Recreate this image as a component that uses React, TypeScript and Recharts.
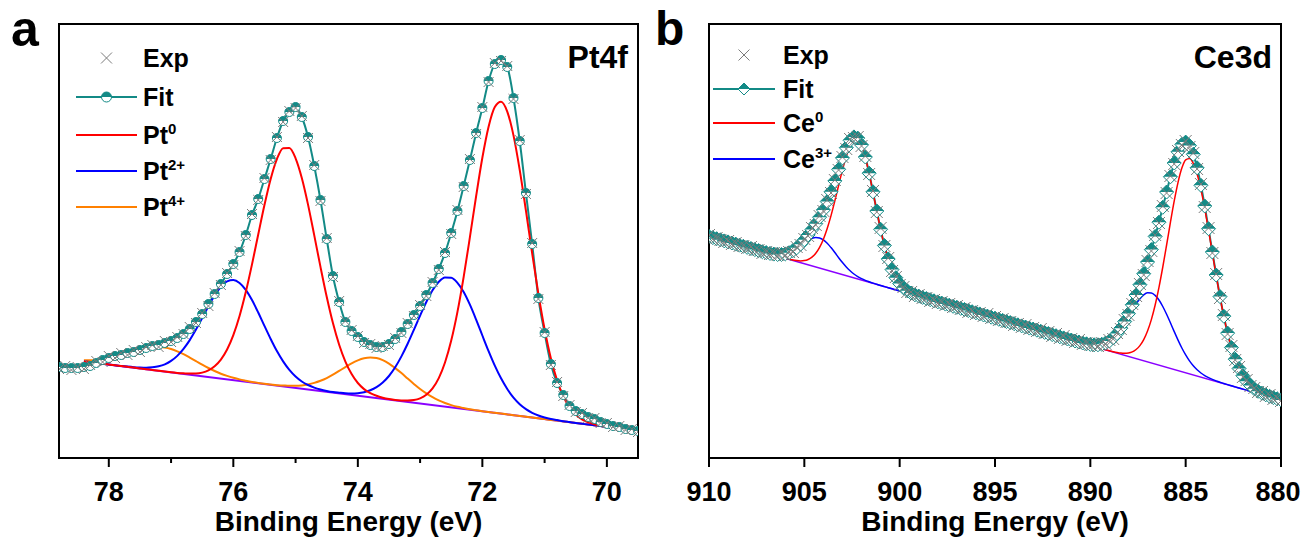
import { ComposedChart, Line, XAxis, YAxis, ReferenceArea } from "recharts";

const FONT = "Arial, 'Liberation Sans', Helvetica, sans-serif";
const TEAL = "#138a86";
const GREY = "#7c7c7c";
const RED = "#ff0000";
const BLUE = "#0000ff";
const ORANGE = "#ff8000";
const PURPLE = "#8a00ff";

// ---- panel a: Pt4f ----
const ptEnergy = [
  78.8, 78.7, 78.6, 78.5, 78.4, 78.3, 78.2, 78.1, 78.0, 77.9, 77.8, 77.7, 77.6, 77.5, 77.4, 77.3,
  77.2, 77.1, 77.0, 76.9, 76.8, 76.7, 76.6, 76.5, 76.4, 76.3, 76.2, 76.1, 76.0, 75.9, 75.8, 75.7,
  75.6, 75.5, 75.4, 75.3, 75.2, 75.1, 75.0, 74.9, 74.8, 74.7, 74.6, 74.5, 74.4, 74.3, 74.2, 74.1,
  74.0, 73.9, 73.8, 73.7, 73.6, 73.5, 73.4, 73.3, 73.2, 73.1, 73.0, 72.9, 72.8, 72.7, 72.6, 72.5,
  72.4, 72.3, 72.2, 72.1, 72.0, 71.9, 71.8, 71.7, 71.6, 71.5, 71.4, 71.3, 71.2, 71.1, 71.0, 70.9,
  70.8, 70.7, 70.6, 70.5, 70.4, 70.3, 70.2, 70.1, 70.0, 69.9, 69.8, 69.7, 69.6, 69.5,
];
const ptFit = [
  91, 90, 90, 90, 91, 92, 95, 98, 100, 102,
  103, 105, 106, 108, 110, 112, 113, 115, 117, 120,
  124, 129, 136, 144, 154, 164, 174, 184, 194, 206,
  223, 243, 259, 279, 299, 320, 337, 346, 351, 341,
  321, 292, 258, 219, 182, 156, 136, 127, 121, 116,
  113, 111, 111, 114, 119, 126, 134, 143, 152, 163,
  175, 189, 205, 225, 247, 272, 298, 325, 350, 377,
  394, 398, 391, 360, 317, 265, 214, 160, 125, 94,
  75, 63, 52, 47, 44, 41, 39, 36, 34, 32,
  31, 29, 28, 27,
];
const ptExp = [
  89, 92, 88, 91, 89, 93, 97, 96, 102, 100,
  105, 103, 108, 106, 111, 113, 111, 117, 116, 121,
  124, 131, 135, 145, 152, 165, 173, 185, 193, 207,
  222, 244, 258, 280, 298, 321, 336, 347, 350, 342,
  320, 293, 257, 220, 181, 157, 137, 128, 122, 115,
  114, 110, 112, 113, 120, 125, 135, 142, 153, 162,
  176, 188, 206, 224, 248, 271, 299, 324, 351, 376,
  395, 397, 392, 359, 318, 264, 215, 159, 126, 93,
  76, 62, 53, 46, 45, 40, 40, 35, 35, 31,
  32, 28, 29, 26,
];
// components start at 78.4 eV
const pt0 = [
  96.6, 95.9, 95.1, 94.3, 93.5, 92.7, 92.0, 91.2, 90.4, 89.6,
  88.8, 88.1, 87.3, 86.5, 85.7, 85.1, 84.7, 84.4, 84.5, 85.4,
  87.6, 91.7, 98.4, 108.5, 122.9, 142.0, 165.9, 193.6, 223.5, 253.0,
  279.1, 298.9, 309.8, 310.0, 299.7, 280.0, 253.4, 222.6, 191.1, 161.2,
  134.9, 113.3, 96.4, 83.9, 75.0, 68.9, 64.9, 62.2, 60.3, 58.9,
  57.9, 57.5, 57.4, 57.9, 59.6, 63.2, 69.6, 79.9, 95.5, 117.4,
  146.1, 181.2, 220.8, 261.8, 300.2, 331.3, 351.0, 356.3, 346.4, 322.6,
  288.1, 247.3, 204.6, 164.2, 128.8, 99.8, 77.8, 61.7, 50.7, 43.4,
  38.7, 35.8, 33.8, 32.4, 31.3, 30.3, 29.6, 28.8, 28.0, 27.2,
];
const pt2 = [
  96.6, 95.9, 95.1, 94.3, 93.5, 92.7, 92.1, 91.4, 90.8, 90.4,
  90.2, 90.7, 91.7, 93.7, 97.1, 102.1, 109.1, 117.9, 128.4, 139.9,
  151.7, 162.6, 171.2, 176.6, 177.9, 175.0, 168.1, 157.9, 145.5, 132.1,
  119.0, 106.9, 96.6, 88.1, 81.5, 76.5, 73.0, 70.4, 68.5, 67.1,
  66.0, 65.3, 64.7, 64.5, 64.8, 65.8, 67.7, 70.8, 75.5, 82.0,
  90.7, 101.6, 114.2, 128.1, 142.4, 156.0, 167.7, 176.2, 180.5, 180.2,
  175.2, 166.0, 153.3, 138.4, 122.5, 106.9, 92.4, 79.7, 69.0, 60.4,
  53.8, 48.9, 45.2, 42.5, 40.5, 39.0, 37.9, 36.8, 35.9, 35.0,
  34.2, 33.5, 32.7, 31.9, 31.1, 30.3, 29.6, 28.8, 28.0, 27.2,
];
const pt4 = [
  97.8, 97.8, 98.0, 98.5, 99.4, 100.7, 102.5, 104.4, 106.4, 108.2,
  109.8, 110.9, 111.1, 110.5, 109.0, 106.7, 103.8, 100.4, 96.9, 93.3,
  90.0, 87.0, 84.3, 82.1, 80.2, 78.6, 77.3, 76.1, 75.1, 74.2,
  73.5, 72.8, 72.5, 72.2, 72.2, 72.6, 73.6, 75.1, 77.2, 79.9,
  83.3, 87.1, 90.9, 94.6, 97.6, 99.7, 100.5, 99.9, 97.8, 94.4,
  89.9, 84.9, 79.4, 74.1, 69.0, 64.6, 60.8, 57.6, 55.0, 52.9,
  51.2, 50.0, 48.8, 47.8, 46.8, 45.9, 45.2, 44.4, 43.6, 42.8,
  42.0, 41.3, 40.5, 39.7, 38.9, 38.1, 37.4, 36.6, 35.8, 35.0,
  34.2, 33.5, 32.7, 31.9, 31.1, 30.3, 29.6, 28.8, 28.0, 27.2,
];
const ptBgEnergy = [78.4, 69.5];
const ptBg = [96.6, 27.2];
const ptTicks = [78, 77, 76, 75, 74, 73, 72, 71, 70];

// ---- panel b: Ce3d ----
const ceEnergy = [
  910, 909.8, 909.6, 909.4, 909.2, 909, 908.8, 908.6, 908.4, 908.2,
  908, 907.8, 907.6, 907.4, 907.2, 907, 906.8, 906.6, 906.4, 906.2,
  906, 905.8, 905.6, 905.4, 905.2, 905, 904.8, 904.6, 904.4, 904.2,
  904, 903.8, 903.6, 903.4, 903.2, 903, 902.8, 902.6, 902.4, 902.2,
  902, 901.8, 901.6, 901.4, 901.2, 901, 900.8, 900.6, 900.4, 900.2,
  900, 899.8, 899.6, 899.4, 899.2, 899, 898.8, 898.6, 898.4, 898.2,
  898, 897.8, 897.6, 897.4, 897.2, 897, 896.8, 896.6, 896.4, 896.2,
  896, 895.8, 895.6, 895.4, 895.2, 895, 894.8, 894.6, 894.4, 894.2,
  894, 893.8, 893.6, 893.4, 893.2, 893, 892.8, 892.6, 892.4, 892.2,
  892, 891.8, 891.6, 891.4, 891.2, 891, 890.8, 890.6, 890.4, 890.2,
  890, 889.8, 889.6, 889.4, 889.2, 889, 888.8, 888.6, 888.4, 888.2,
  888, 887.8, 887.6, 887.4, 887.2, 887, 886.8, 886.6, 886.4, 886.2,
  886, 885.8, 885.6, 885.4, 885.2, 885, 884.8, 884.6, 884.4, 884.2,
  884, 883.8, 883.6, 883.4, 883.2, 883, 882.8, 882.6, 882.4, 882.2,
  882, 881.8, 881.6, 881.4, 881.2, 881, 880.8, 880.6, 880.4, 880.2,
  880,
];
const ceFit = [
  221.5, 220.4, 219.3, 218.2, 217.1, 216.1, 215.0, 213.9, 212.8, 211.7,
  210.6, 209.5, 208.4, 207.4, 206.3, 205.4, 204.6, 203.9, 203.5, 203.5,
  204.1, 205.3, 207.4, 210.2, 213.8, 218.2, 223.1, 228.5, 234.3, 240.8,
  248.1, 256.5, 266.2, 277.1, 288.7, 300.1, 310.3, 317.7, 321.1, 319.9,
  313.1, 301.0, 284.8, 266.2, 247.0, 228.7, 212.5, 199.1, 188.4, 180.3,
  174.4, 170.2, 167.2, 165.0, 163.2, 161.9, 160.6, 159.4, 158.3, 157.2,
  156.1, 155.0, 153.9, 152.8, 151.7, 150.7, 149.6, 148.5, 147.4, 146.3,
  145.2, 144.1, 143.0, 141.9, 140.8, 139.8, 138.7, 137.6, 136.5, 135.4,
  134.3, 133.2, 132.1, 131.0, 129.9, 128.9, 127.8, 126.7, 125.6, 124.5,
  123.4, 122.3, 121.2, 120.1, 119.0, 118.0, 117.0, 116.0, 115.0, 114.2,
  113.6, 113.2, 113.2, 113.7, 115.0, 117.0, 120.1, 124.4, 129.8, 136.5,
  144.4, 153.2, 162.9, 173.3, 184.3, 196.0, 208.4, 221.6, 235.8, 250.7,
  266.0, 281.2, 295.0, 306.2, 313.6, 315.9, 312.4, 303.7, 290.2, 272.7,
  252.0, 229.3, 206.0, 183.0, 161.4, 141.8, 124.9, 110.5, 98.8, 89.5,
  82.3, 76.7, 72.5, 69.2, 66.7, 64.8, 63.2, 61.7, 60.4, 59.2,
  58.1,
];
const ceExp = [
  223, 219, 220, 218, 216, 217, 214, 215, 212, 212,
  210, 211, 208, 208, 205, 206, 204, 205, 203, 205,
  203, 206, 206, 211, 213, 219, 222, 230, 233, 242,
  247, 258, 265, 278, 288, 301, 309, 319, 320, 321,
  312, 302, 284, 267, 246, 230, 212, 200, 187, 181,
  173, 171, 166, 166, 162, 163, 160, 160, 157, 158,
  155, 156, 153, 154, 151, 152, 149, 150, 146, 147,
  144, 145, 142, 144, 140, 141, 138, 139, 136, 136,
  133, 134, 131, 133, 129, 130, 127, 129, 125, 126,
  122, 124, 120, 122, 118, 119, 116, 118, 114, 115,
  113, 114, 112, 115, 114, 118, 119, 125, 129, 138,
  143, 154, 162, 174, 183, 197, 207, 223, 235, 252,
  265, 282, 294, 307, 313, 317, 311, 305, 289, 274,
  251, 230, 205, 184, 160, 143, 124, 112, 98, 91,
  81, 78, 72, 70, 66, 66, 62, 63, 59, 60,
  57,
];
// components start at 906.6 eV
const ce0 = [
  203.0, 201.9, 200.9,
  199.8, 198.9, 198.0, 197.4, 197.1, 197.4, 198.5, 200.8, 204.7, 210.6,
  218.8, 229.5, 242.4, 257.1, 272.8, 288.1, 301.6, 311.7, 317.2, 317.5,
  311.7, 300.2, 284.3, 265.9, 246.8, 228.7, 212.5, 199.1, 188.4, 180.3,
  174.4, 170.2, 167.2, 165.0, 163.2, 161.9, 160.6, 159.4, 158.3, 157.2,
  156.1, 155.0, 153.9, 152.8, 151.7, 150.7, 149.6, 148.5, 147.4, 146.3,
  145.2, 144.1, 143.0, 141.9, 140.8, 139.8, 138.7, 137.6, 136.5, 135.4,
  134.3, 133.2, 132.1, 131.0, 129.9, 128.9, 127.8, 126.7, 125.6, 124.5,
  123.4, 122.3, 121.2, 120.1, 119.0, 118.0, 116.9, 115.8, 114.7, 113.6,
  112.5, 111.4, 110.3, 109.3, 108.2, 107.2, 106.3, 105.5, 104.9, 104.7,
  105.0, 106.1, 108.5, 112.4, 118.4, 127.0, 138.4, 153.0, 170.7, 191.0,
  213.0, 235.6, 257.1, 275.7, 289.9, 298.1, 299.5, 294.6, 284.0, 268.6,
  249.4, 227.7, 205.0, 182.4, 161.0, 141.7, 124.8, 110.5, 98.8, 89.5,
  82.3, 76.7, 72.5, 69.2, 66.7, 64.8, 63.2, 61.7, 60.4, 59.2,
  58.1,
];
const ce3 = [
  203.9, 203.5, 203.5,
  204.0, 205.1, 206.8, 209.2, 212.0, 215.0, 217.7, 219.7, 220.6, 220.1,
  218.1, 214.8, 210.4, 205.5, 200.3, 195.4, 191.0, 187.2, 184.0, 181.4,
  179.3, 177.6, 176.2, 174.9, 173.7, 172.5, 171.4, 170.3, 169.2, 168.1,
  167.0, 165.9, 164.8, 163.7, 162.6, 161.6, 160.5, 159.4, 158.3, 157.2,
  156.1, 155.0, 153.9, 152.8, 151.7, 150.7, 149.6, 148.5, 147.4, 146.3,
  145.2, 144.1, 143.0, 141.9, 140.8, 139.8, 138.7, 137.6, 136.5, 135.4,
  134.3, 133.2, 132.1, 131.0, 129.9, 128.9, 127.8, 126.7, 125.6, 124.5,
  123.4, 122.3, 121.2, 120.1, 119.0, 118.0, 117.0, 116.0, 115.0, 114.2,
  113.6, 113.2, 113.2, 113.7, 114.9, 116.9, 119.8, 123.8, 128.7, 134.6,
  141.0, 147.6, 153.9, 159.2, 163.2, 165.2, 165.1, 162.6, 158.0, 151.5,
  143.7, 135.2, 126.4, 117.9, 110.0, 103.1, 97.1, 92.2, 88.2, 85.0,
  82.4, 80.3, 78.6, 77.1, 75.8, 74.5, 73.4, 72.2, 71.1, 70.0,
  68.9, 67.8, 66.7, 65.6, 64.5, 63.5, 62.4, 61.3, 60.2, 59.1,
  58.0,
];
const ceBgEnergy = [906.6, 880];
const ceBg = [203.0, 58.0];
const ceTicks = [910, 905, 900, 895, 890, 885, 880];

const ptOffset = ptEnergy.length - pt0.length;
const ptRows = ptEnergy.map((e, i) => ({
  e,
  fit: ptFit[i],
  exp: ptExp[i],
  pt0: i >= ptOffset ? pt0[i - ptOffset] : null,
  pt2: i >= ptOffset ? pt2[i - ptOffset] : null,
  pt4: i >= ptOffset ? pt4[i - ptOffset] : null,
}));
const ptBgRows = ptBgEnergy.map((e, i) => ({ e, bg: ptBg[i] }));

const ceOffset = ceEnergy.length - ce0.length;
const ceRows = ceEnergy.map((e, i) => ({
  e,
  fit: ceFit[i],
  exp: ceExp[i],
  ce0: i >= ceOffset ? ce0[i - ceOffset] : null,
  ce3: i >= ceOffset ? ce3[i - ceOffset] : null,
}));
const ceBgRows = ceBgEnergy.map((e, i) => ({ e, bg: ceBg[i] }));

function HalfCircle({ cx, cy, r = 4.5 }: { cx?: number; cy?: number; r?: number }) {
  if (cx == null || cy == null) return null;
  return (
    <g>
      <circle cx={cx} cy={cy} r={r} fill="#fff" stroke={TEAL} strokeWidth={1} />
      <path d={`M${cx - r},${cy} A${r},${r} 0 0 1 ${cx + r},${cy} Z`} fill={TEAL} />
    </g>
  );
}

function HalfDiamond({ cx, cy, s = 5 }: { cx?: number; cy?: number; s?: number }) {
  if (cx == null || cy == null) return null;
  return (
    <g>
      <path d={`M${cx},${cy - s} L${cx + s},${cy} L${cx},${cy + s} L${cx - s},${cy} Z`} fill="#fff" stroke={TEAL} strokeWidth={1} />
      <path d={`M${cx - s},${cy} L${cx},${cy - s} L${cx + s},${cy} Z`} fill={TEAL} />
    </g>
  );
}

function Cross({ cx, cy, s = 4.5 }: { cx?: number; cy?: number; s?: number }) {
  if (cx == null || cy == null) return null;
  return (
    <g stroke={GREY} strokeWidth={1}>
      <line x1={cx - s} y1={cy - s} x2={cx + s} y2={cy + s} />
      <line x1={cx - s} y1={cy + s} x2={cx + s} y2={cy - s} />
    </g>
  );
}

function makeTick(isMajor: (v: number) => boolean, edgeValue?: number) {
  return (props: any) => {
    const { x, y, payload } = props;
    const major = isMajor(payload.value);
    // nudge the label that sits on the page edge so it is not clipped
    const dx = payload.value === edgeValue ? -3 : 0;
    return (
      <g>
        <line x1={x} x2={x} y1={y} y2={y + (major ? 9 : 5)} stroke="#000" strokeWidth={2} />
        {major && (
          <text x={x + dx} y={y + 43} textAnchor="middle" fontSize={27} fontWeight={700} fontFamily={FONT} fill="#000">
            {payload.value}
          </text>
        )}
      </g>
    );
  };
}

const axisLine = { stroke: "#000", strokeWidth: 2 };
const titleLabel = {
  value: "Binding Energy (eV)",
  position: "insideBottom" as const,
  offset: 8,
  fill: "#000",
  fontSize: 28,
  fontWeight: 700,
  fontFamily: FONT,
};

const ptLegend = [
  { label: "Exp", sup: "", kind: "exp", color: GREY },
  { label: "Fit", sup: "", kind: "fit", color: TEAL },
  { label: "Pt", sup: "0", kind: "line", color: RED },
  { label: "Pt", sup: "2+", kind: "line", color: BLUE },
  { label: "Pt", sup: "4+", kind: "line", color: ORANGE },
];
const ptLegendY = [58, 97, 135, 171, 207];

const ceLegend = [
  { label: "Exp", sup: "", kind: "exp", color: GREY },
  { label: "Fit", sup: "", kind: "fitd", color: TEAL },
  { label: "Ce", sup: "0", kind: "line", color: RED },
  { label: "Ce", sup: "3+", kind: "line", color: BLUE },
];
const ceLegendY = [55, 89, 123, 159];

function LegendBlock({ items, ys, x1, x2, tx }: { items: typeof ptLegend; ys: number[]; x1: number; x2: number; tx: number }) {
  const mid = (x1 + x2) / 2;
  return (
    <g>
      {items.map((it, i) => {
        const y = ys[i];
        return (
          <g key={i}>
            {it.kind === "exp" && <Cross cx={mid} cy={y} s={5.5} />}
            {it.kind !== "exp" && <line x1={x1} x2={x2} y1={y} y2={y} stroke={it.color} strokeWidth={2} />}
            {it.kind === "fit" && <HalfCircle cx={mid} cy={y} r={5} />}
            {it.kind === "fitd" && <HalfDiamond cx={mid} cy={y} s={6} />}
            <text x={tx} y={y + 9} fontSize={25} fontWeight={700} fontFamily={FONT} fill="#000">
              {it.label}
              {it.sup && (
                <tspan dy={-10} fontSize={15}>
                  {it.sup}
                </tspan>
              )}
            </text>
          </g>
        );
      })}
    </g>
  );
}

export default function App() {
  return (
    <div style={{ position: "absolute", left: 0, top: 0, width: 1302, height: 539, background: "#fff" }}>
      <div style={{ position: "absolute", left: 0, top: 0 }}>
        <ComposedChart width={660} height={539} data={ptRows} margin={{ top: 24, right: 22, bottom: 0, left: 59 }}>
          <XAxis
            dataKey="e"
            type="number"
            domain={[69.5, 78.8]}
            reversed
            allowDataOverflow
            ticks={ptTicks}
            interval={0}
            height={81}
            tickSize={0}
            tickMargin={0}
            tickLine={false}
            axisLine={axisLine}
            tick={makeTick((v) => v % 2 === 0)}
            label={titleLabel}
          />
          <YAxis type="number" domain={[0, 434]} allowDataOverflow hide />
          <ReferenceArea x1={78.8} x2={69.5} y1={0} y2={434} fill="none" stroke="#000" strokeWidth={2} ifOverflow="visible" />
          <Line dataKey="fit" type="monotone" stroke={TEAL} strokeWidth={2} isAnimationActive={false} activeDot={false}
            dot={(p: any) => <HalfCircle key={`pf${p.index}`} cx={p.cx} cy={p.cy} />} />
          <Line dataKey="exp" stroke="none" isAnimationActive={false} activeDot={false}
            dot={(p: any) => <Cross key={`pe${p.index}`} cx={p.cx} cy={p.cy} s={5} />} />
          <Line data={ptBgRows} dataKey="bg" type="linear" stroke={PURPLE} strokeWidth={2} dot={false} isAnimationActive={false} activeDot={false} />
          <Line dataKey="pt4" type="monotone" stroke={ORANGE} strokeWidth={2} dot={false} isAnimationActive={false} activeDot={false} />
          <Line dataKey="pt2" type="monotone" stroke={BLUE} strokeWidth={2} dot={false} isAnimationActive={false} activeDot={false} />
          <Line dataKey="pt0" type="monotone" stroke={RED} strokeWidth={2} dot={false} isAnimationActive={false} activeDot={false} />
        </ComposedChart>
      </div>
      <div style={{ position: "absolute", left: 650, top: 0 }}>
        <ComposedChart width={652} height={539} data={ceRows} margin={{ top: 24, right: 21, bottom: 0, left: 59 }}>
          <XAxis
            dataKey="e"
            type="number"
            domain={[880, 910]}
            reversed
            allowDataOverflow
            ticks={ceTicks}
            interval={0}
            height={81}
            tickSize={0}
            tickMargin={0}
            tickLine={false}
            axisLine={axisLine}
            tick={makeTick(() => true, 880)}
            label={titleLabel}
          />
          <YAxis type="number" domain={[0, 434]} allowDataOverflow hide />
          <ReferenceArea x1={910} x2={880} y1={0} y2={434} fill="none" stroke="#000" strokeWidth={2} ifOverflow="visible" />
          <Line dataKey="fit" type="monotone" stroke={TEAL} strokeWidth={2} isAnimationActive={false} activeDot={false}
            dot={(p: any) => <HalfDiamond key={`cf${p.index}`} cx={p.cx} cy={p.cy} s={7} />} />
          <Line dataKey="exp" stroke="none" isAnimationActive={false} activeDot={false}
            dot={(p: any) => <Cross key={`ce${p.index}`} cx={p.cx} cy={p.cy} s={6} />} />
          <Line data={ceBgRows} dataKey="bg" type="linear" stroke={PURPLE} strokeWidth={1.5} dot={false} isAnimationActive={false} activeDot={false} />
          <Line dataKey="ce3" type="monotone" stroke={BLUE} strokeWidth={1.5} dot={false} isAnimationActive={false} activeDot={false} />
          <Line dataKey="ce0" type="monotone" stroke={RED} strokeWidth={1.5} dot={false} isAnimationActive={false} activeDot={false} />
        </ComposedChart>
      </div>
      <svg width={1302} height={539} style={{ position: "absolute", left: 0, top: 0, pointerEvents: "none" }}>
        <text x={11} y={46} fontSize={50} fontWeight={700} fontFamily={FONT} fill="#000">a</text>
        <text x={655} y={45} fontSize={48} fontWeight={700} fontFamily={FONT} fill="#000">b</text>
        <text x={628} y={68} textAnchor="end" fontSize={32} fontWeight={700} fontFamily={FONT} fill="#000">Pt4f</text>
        <text x={1272} y={68} textAnchor="end" fontSize={32} fontWeight={700} fontFamily={FONT} fill="#000">Ce3d</text>
        <LegendBlock items={ptLegend} ys={ptLegendY} x1={76} x2={137} tx={143} />
        <LegendBlock items={ceLegend} ys={ceLegendY} x1={713} x2={775} tx={783} />
      </svg>
    </div>
  );
}
